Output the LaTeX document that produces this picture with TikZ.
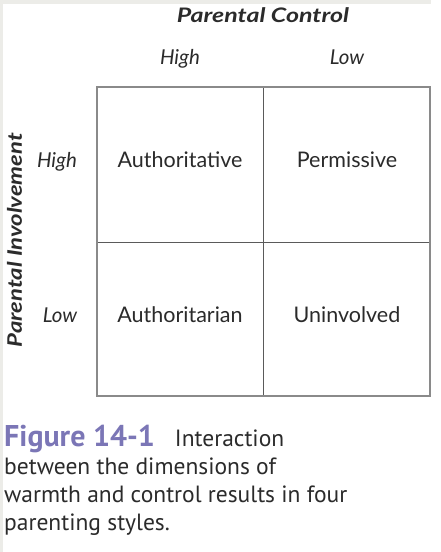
\documentclass[tikz,border=0pt]{standalone}
\usepackage{fontspec}
\usepackage{graphicx}
\setmainfont{Lato}
\newfontfamily\capfont{PT Sans}
\definecolor{framegray}{HTML}{ECECE8}
\definecolor{boxgray}{HTML}{8A8A8A}
\definecolor{linegray}{HTML}{5A5A5A}
\definecolor{txt}{HTML}{2B2B2B}
\definecolor{figpurple}{HTML}{7B76B6}
\begin{document}
\begin{tikzpicture}[x=1pt,y=-1pt,
  lbl/.style={font=\fontsize{21.5}{24}\selectfont, text=txt, anchor=base, inner sep=0pt},
  axlbl/.style={font=\fontsize{20.5}{24}\selectfont\itshape, text=txt, anchor=base, inner sep=0pt},
  ttl/.style={font=\fontsize{20}{24}\selectfont\bfseries\itshape, text=txt, anchor=base, inner sep=0pt}]
\useasboundingbox (0,0) rectangle (440,552);
\fill[white] (0,0) rectangle (440,552);
\fill[framegray] (0,0) rectangle (431,4);
\fill[framegray] (0,0) rectangle (3,552);
% grid
\draw[linegray, line width=1pt] (263,87) -- (263,396);
\draw[linegray, line width=1pt] (97,242) -- (430,242);
\draw[boxgray, line width=2pt] (97,87) rectangle (430,396);
% labels
\node[ttl] (pc) at (263,22) {\resizebox{172pt}{\height}{Parental Control}};
\node[axlbl] (ch) at (180,64) {High};
\node[axlbl] (cl) at (347,64) {Low};
\node[ttl, rotate=90, anchor=base] (pi) at (22,240) {\resizebox{214pt}{\height}{Parental Involvement}};
\node[axlbl] (ih) at (57,167) {High};
\node[axlbl] (il) at (60,322) {Low};
\node[lbl] (a1) at (180,167) {Authoritative};
\node[lbl] (a2) at (347,167) {Permissive};
\node[lbl] (a3) at (180,322) {Authoritarian};
\node[lbl] (a4) at (347,322) {Uninvolved};
% caption
\node[anchor=base west, inner sep=0pt, align=left, text=txt,
  font=\capfont\fontsize{23.5}{28}\selectfont] (cap) at (4,530)
  {{\color{figpurple}\fontsize{30}{28}\selectfont\bfseries Figure 14-1}\hspace{20pt}Interaction\\
   between the dimensions of\\
   warmth and control results in four\\
   parenting styles.};
\end{tikzpicture}
\end{document}
